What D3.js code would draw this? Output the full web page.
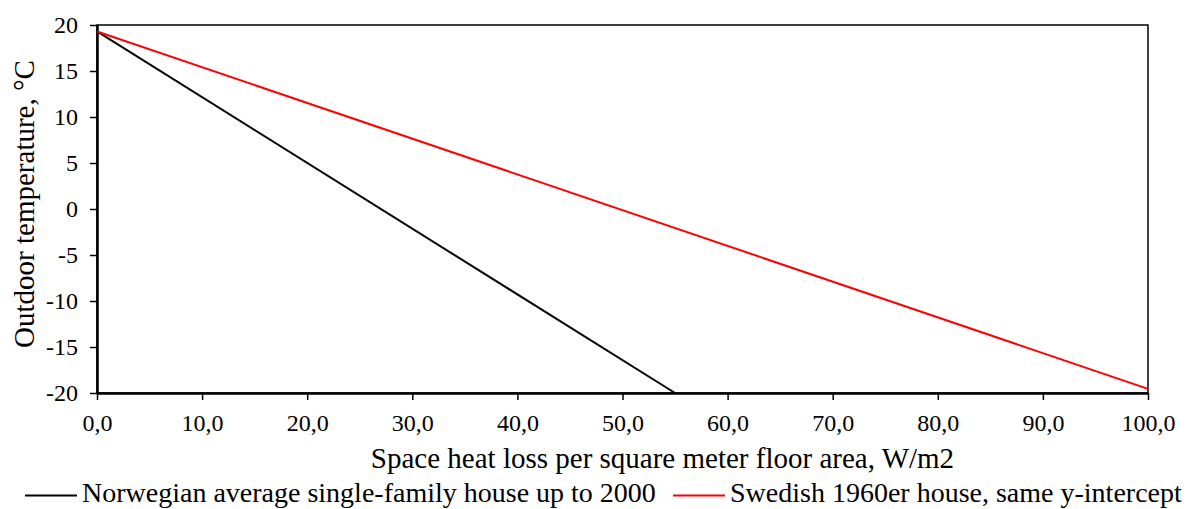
<!DOCTYPE html>
<html><head><meta charset="utf-8">
<script src="https://d3js.org/d3.v7.min.js"></script>
<style>body{margin:0;background:#fff}svg{display:block}text{font-family:"Liberation Serif","Times New Roman",serif;fill:#000}</style>
</head><body><svg id="c" width="1186" height="509"></svg>
<script>
const xTicks = [0,10,20,30,40,50,60,70,80,90,100];
const yTicks = [-20,-15,-10,-5,0,5,10,15,20];
const seriesNames = ["Norwegian average single-family house up to 2000","Swedish 1960er house, same y-intercept"];
const seriesColors = ["#000000","#ff0000"];
const norwegianX = [0, 55];
const norwegianY = [19.3, -20];
const swedishX = [0, 100];
const swedishY = [19.3, -19.55];

const svg = d3.select("#c");
const L=97,R=1148,T=25,B=393;
const x = d3.scaleLinear().domain([0,100]).range([L,R]);
const y = d3.scaleLinear().domain([-20,20]).range([B,T]);

svg.append("rect").attr("x",L).attr("y",T).attr("width",R-L).attr("height",B-T)
  .attr("fill","none").attr("stroke","#000").attr("stroke-width",1.5);

const xa = svg.append("g").attr("transform",`translate(0,${B})`)
  .call(d3.axisBottom(x).tickValues(xTicks).tickSize(7).tickSizeOuter(0).tickFormat(d=>d3.format(".1f")(d).replace(".",",")));
const ya = svg.append("g").attr("transform",`translate(${L},0)`)
  .call(d3.axisLeft(y).tickValues(yTicks).tickSize(7).tickSizeOuter(0).tickFormat(d=>String(d)));
[xa,ya].forEach(a=>{
  a.attr("font-family","Liberation Serif").attr("font-size",24);
  a.select(".domain").attr("stroke","#000").attr("stroke-width",2.5);
  a.selectAll(".tick line").attr("stroke","#000").attr("stroke-width",1.5);
  a.selectAll("text").style("font-family","'Liberation Serif'").style("font-size","24px").attr("fill","#000");
});
xa.selectAll("text").attr("dy","0").attr("y",38);
ya.selectAll("text").attr("x",-19).attr("dy","0.33em");

const line = d3.line().x(d=>x(d[0])).y(d=>y(d[1]));
const data = [d3.zip(norwegianX,norwegianY), d3.zip(swedishX,swedishY)];
data.forEach((d,i)=>{
  svg.append("path").datum(d).attr("d",line).attr("fill","none").attr("stroke",seriesColors[i]).attr("stroke-width",2);
});

svg.append("text").attr("x",(L+R)/2+40).attr("y",468).attr("text-anchor","middle").style("font-size","29px")
  .text("Space heat loss per square meter floor area, W/m2");
svg.append("text").attr("transform",`translate(34,204) rotate(-90)`).attr("text-anchor","middle").style("font-size","29px")
  .text("Outdoor temperature, \u00B0C");

const legX = [25, 673];
seriesNames.forEach((n,i)=>{
  svg.append("line").attr("x1",legX[i]).attr("x2",legX[i]+52).attr("y1",495.5).attr("y2",495.5)
    .attr("stroke",seriesColors[i]).attr("stroke-width",2);
  svg.append("text").attr("x",legX[i]+57).attr("y",502).style("font-size","28px").text(n);
});
</script></body></html>
